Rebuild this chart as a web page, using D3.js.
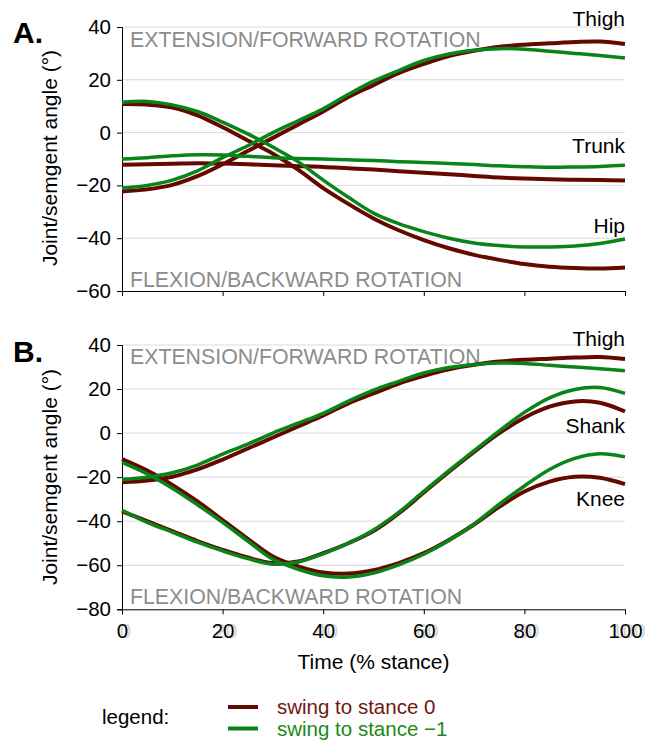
<!DOCTYPE html>
<html><head><meta charset="utf-8">
<script src="https://cdn.jsdelivr.net/npm/d3@7/dist/d3.min.js"></script>
<style>
body{margin:0;background:#fff;}
svg text{font-family:"Liberation Sans",Arial,Helvetica,sans-serif;}
</style></head>
<body><svg id="c" width="647" height="744"></svg>
<script>
// ---- data (x = % stance) ----
const pct = [0,5,10,15,20,25,30,35,40,45,50,55,60,65,70,75,80,85,90,95,100];
const xTicks = [0,20,40,60,80,100];
const yTicksA = [40,20,0,-20,-40,-60];
const yTicksB = [40,20,0,-20,-40,-60,-80];
const seriesNames = ["swing to stance 0","swing to stance \u22121"];

// swing to stance 0
const thigh0 = [-22.3,-21.5,-19.8,-16.5,-12,-7,-2,3,8,13.5,18,22.5,26,29,31,32.5,33.3,33.8,34.3,34.5,33.6];
const trunk0 = [-12.2,-12,-11.8,-11.6,-11.7,-12,-12.4,-12.7,-13,-13.5,-14,-14.6,-15.2,-15.8,-16.4,-17,-17.4,-17.7,-17.9,-18,-18.1];
const hip0   = [10.8,10.6,9.5,6.5,2,-3,-8,-14,-21,-27,-32.5,-37,-40.7,-43.8,-46.3,-48.2,-49.8,-50.8,-51.3,-51.5,-51.1];
const shank0 = [-35.5,-40,-44.5,-49,-53,-56.5,-59,-58.3,-54.5,-50,-44.5,-36.5,-27,-17.5,-8.5,0,7,12,14.4,13.8,9.8];
const knee0  = [-11.8,-17,-23.5,-31,-39.5,-48,-56,-60.5,-63.3,-63.8,-62.2,-59,-54.5,-48.5,-41.5,-33.5,-26.5,-22,-19.8,-20.3,-23.2];
// swing to stance -1
const thigh1 = [-21,-20,-18,-14.5,-9.5,-5,0,4.5,9,14.5,19.5,23.5,27.3,29.8,31.2,31.8,31.6,30.8,30,29.2,28.3];
const trunk1 = [-10,-9.5,-8.8,-8.4,-8.5,-9,-9.5,-9.8,-10,-10.3,-10.6,-11,-11.3,-11.7,-12.1,-12.6,-12.9,-13.1,-13,-12.8,-12.4];
const hip1   = [11.5,11.8,10.5,8,4,-0.5,-5.5,-11,-18,-24.5,-30.5,-34.5,-37.5,-40,-41.8,-42.8,-43.3,-43.3,-43,-42,-40.3];
const shank1 = [-35,-40.5,-45,-49.5,-53.5,-57,-59.5,-58.5,-54.8,-50,-44,-36,-26.5,-17,-8,1,9.4,16,19.8,20.7,18];
const knee1  = [-13.3,-18.5,-25,-32.5,-40.5,-49,-57.3,-61.8,-64.8,-65.3,-63.5,-59.8,-55,-48.8,-41.3,-32.3,-24,-16.5,-11.5,-9.4,-10.8];

const labelsA = ["Thigh","Trunk","Hip"];
const labelsB = ["Thigh","Shank","Knee"];

const C0 = "#650800", C1 = "#088418";
const svg = d3.select("#c");
const x = d3.scaleLinear().domain([0,100]).range([122,625]);
const FS = 20.5;

function panel(cfg){
  const y = d3.scaleLinear().domain(cfg.domain).range(cfg.range);
  const g = svg.append("g");
  // grid
  g.selectAll("line.grid").data(cfg.ticks.filter(t=>t!==cfg.domain[0])).join("line")
    .attr("x1",x(0)).attr("x2",x(100)).attr("y1",d=>y(d)).attr("y2",d=>y(d))
    .attr("stroke","#d9d9d9").attr("stroke-width",1);
  // annotations
  g.append("text").attr("x",130).attr("y",cfg.extY).attr("font-size",21.3).attr("fill","#8c8c8c").text("EXTENSION/FORWARD ROTATION");
  g.append("text").attr("x",130).attr("y",cfg.flexY).attr("font-size",21.3).attr("fill","#8c8c8c").text("FLEXION/BACKWARD ROTATION");
  // y axis
  const ya = g.append("g").attr("transform",`translate(${x(0)},0)`)
    .call(d3.axisLeft(y).tickValues(cfg.ticks).tickSize(5).tickPadding(6).tickFormat(d=>d<0?"\u2212"+(-d):d));
  ya.selectAll("text").attr("font-size",FS).attr("fill","#000").style("font-family","'Liberation Sans',Arial,sans-serif");
  ya.selectAll("line,path").attr("stroke","#000");
  // x axis
  const xa = g.append("g").attr("transform",`translate(0,${y(cfg.domain[0])})`)
    .call(d3.axisBottom(x).tickValues(xTicks).tickSize(5).tickPadding(9).tickFormat(cfg.xlabels?d3.format("d"):""));
  xa.selectAll("line,path").attr("stroke","#000");
  if(cfg.xlabels){
    xa.selectAll("text").attr("font-size",FS).attr("fill","#000")
      .style("font-family","'Liberation Sans',Arial,sans-serif")
      .style("text-shadow","3px 0 1px #cfcfcf");
  }
  // lines
  const line = d3.line().x((d,i)=>x(pct[i])).y(d=>y(d)).curve(d3.curveCatmullRom.alpha(0.5));
  cfg.s0.forEach(s=>g.append("path").attr("d",line(s)).attr("fill","none").attr("stroke",C0).attr("stroke-width",4).attr("stroke-linejoin","round"));
  cfg.s1.forEach(s=>g.append("path").attr("d",line(s)).attr("fill","none").attr("stroke",C1).attr("stroke-width",3.5).attr("stroke-linejoin","round"));
  // series labels
  cfg.labels.forEach((l,i)=>g.append("text").attr("x",625).attr("y",cfg.labelY[i]).attr("text-anchor","end").attr("font-size",21).attr("fill","#000").text(l));
  // panel letter
  g.append("text").attr("x",13).attr("y",cfg.letterY).attr("font-size",30).attr("font-weight","bold").text(cfg.letter);
  // y title
  g.append("text").attr("transform",`translate(57,${cfg.titleY}) rotate(-90)`).attr("text-anchor","middle").attr("font-size",21).text("Joint/semgent angle (\u00b0)");
  return y;
}

panel({domain:[-60,40],range:[291,27],ticks:yTicksA,extY:47,flexY:287,
  s0:[thigh0,trunk0,hip0],s1:[thigh1,trunk1,hip1],labels:labelsA,labelY:[26,153,233],
  letter:"A.",letterY:43,titleY:158,xlabels:false});
panel({domain:[-80,40],range:[609.3,345],ticks:yTicksB,extY:363.5,flexY:604,
  s0:[thigh0,shank0,knee0],s1:[thigh1,shank1,knee1],labels:labelsB,labelY:[346,433,505.5],
  letter:"B.",letterY:362,titleY:477,xlabels:true});

svg.append("text").attr("x",x(50)).attr("y",669).attr("text-anchor","middle").attr("font-size",21).text("Time (% stance)");

// legend
svg.append("text").attr("x",102).attr("y",724).attr("font-size",20.5).text("legend:");
const lg = svg.append("g");
[C0,C1].forEach((c,i)=>{
  lg.append("line").attr("x1",228).attr("x2",258).attr("y1",707+i*21.5).attr("y2",707+i*21.5).attr("stroke",c).attr("stroke-width",4);
  lg.append("text").attr("x",277).attr("y",714+i*21.5).attr("font-size",20.5).attr("fill",i===0?"#701810":"#1a8a1a").text(seriesNames[i]);
});
</script></body></html>
